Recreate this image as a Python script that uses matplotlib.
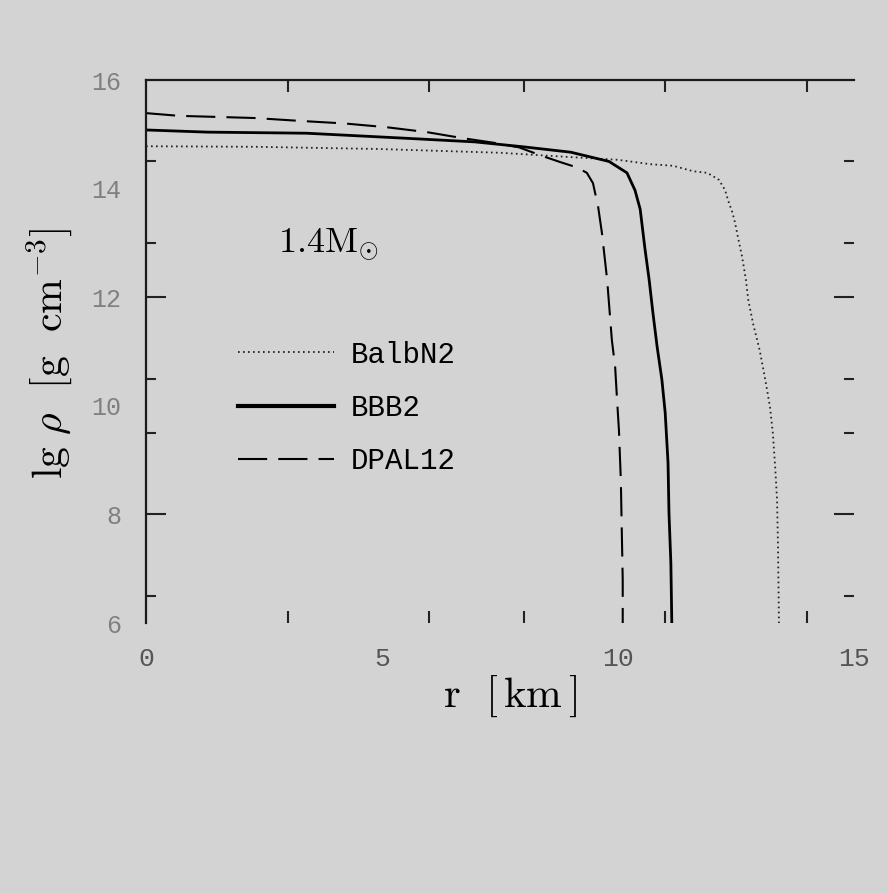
import matplotlib
matplotlib.use("Agg")
import matplotlib.pyplot as plt
from matplotlib.lines import Line2D

plt.rcParams['mathtext.fontset'] = 'cm'
plt.rcParams['lines.scale_dashes'] = False

# ---- data ----
r_balb = [0.0, 2.3, 4.9, 7.5, 9.0, 10.0, 10.68, 11.17, 11.59, 11.89, 12.01, 12.14,
          12.27, 12.33, 12.42, 12.48, 12.54, 12.63, 12.71, 12.76, 12.86, 13.0,
          13.11, 13.22, 13.28, 13.33, 13.37, 13.39, 13.41]
rho_balb = [14.78, 14.77, 14.73, 14.66, 14.58, 14.53, 14.45, 14.42, 14.32, 14.29, 14.23, 14.16,
            13.97, 13.79, 13.57, 13.37, 13.11, 12.74, 12.32, 11.95, 11.52, 11.03,
            10.53, 9.98, 9.5, 8.87, 8.27, 7.4, 6.0]

r_bbb = [0.0, 1.3, 3.4, 5.44, 6.97, 7.99, 9.0, 9.81, 10.19, 10.36, 10.47, 10.57,
         10.66, 10.74, 10.83, 10.93, 11.0, 11.06, 11.08, 11.12, 11.14]
rho_bbb = [15.08, 15.04, 15.02, 14.93, 14.86, 14.77, 14.67, 14.50, 14.29, 13.97, 13.62, 12.90,
           12.32, 11.71, 11.08, 10.48, 9.87, 8.95, 8.03, 7.1, 6.0]

r_dpal = [0.0, 0.7, 2.3, 3.2, 4.2, 5.1, 5.95, 6.7, 7.4, 7.9, 8.4, 8.77, 9.13, 9.34, 9.47,
          9.58, 9.66, 9.77, 9.87, 9.94, 9.98, 10.02, 10.06, 10.08, 10.1, 10.1]
rho_dpal = [15.39, 15.34, 15.30, 15.25, 15.20, 15.13, 15.04, 14.93, 14.84, 14.76, 14.6, 14.49, 14.39, 14.29, 14.10,
            13.66, 13.18, 12.32, 11.21, 10.71, 10.11, 9.55, 8.63, 7.71, 6.79, 6.0]

labels = ['BalbN2', 'BBB2', 'DPAL12']
xtick_labels = ['0', '5', '10', '15']
ytick_labels = ['6', '8', '10', '12', '14', '16']
xtick_vals = [0, 5, 10, 15]
ytick_vals = [6, 8, 10, 12, 14, 16]
x_marks = [3, 6, 8, 11, 14]
y_short_marks = [6.5, 9.5, 10.5, 13, 14.5]
y_long_marks = [8, 12]

BG = '#d3d3d3'
fig = plt.figure(figsize=(8.88, 8.93), dpi=100, facecolor=BG)
ax = fig.add_axes([146/888, 1-623/893, 708/888, 543/893], facecolor=BG)

ax.plot(r_balb, rho_balb, color='#222222', lw=1.3, linestyle=(0, (1.2, 2.4)))
ax.plot(r_bbb, rho_bbb, color='black', lw=2.0, linestyle='-')
ax.plot(r_dpal, rho_dpal, color='black', lw=1.5, linestyle=(0, (21, 8)))

ax.set_xlim(0, 15)
ax.set_ylim(6, 16)

for s in ['bottom', 'right']:
    ax.spines[s].set_visible(False)
for s in ['left', 'top']:
    ax.spines[s].set_linewidth(1.6)
    ax.spines[s].set_color('#1a1a1a')

# major ticks: labels only
ax.set_xticks(xtick_vals)
ax.set_xticklabels(xtick_labels)
ax.set_yticks(ytick_vals)
ax.set_yticklabels(ytick_labels)
ax.tick_params(axis='both', which='major', length=0)
ax.tick_params(axis='x', which='major', pad=17, labelsize=19, labelcolor='#555555')
ax.tick_params(axis='y', which='major', pad=18, labelsize=18, labelcolor='#808080')
for t in ax.get_xticklabels() + ax.get_yticklabels():
    t.set_family('Liberation Mono')

# minor ticks: visible marks
ax.set_xticks(x_marks, minor=True)
ax.set_yticks(y_short_marks, minor=True)
ax.tick_params(axis='x', which='minor', direction='in', length=8.5, width=1.5,
               top=True, bottom=True, color='#222222')
ax.tick_params(axis='y', which='minor', direction='in', length=7, width=1.5,
               left=True, right=True, color='#222222')

# long ticks on y at 8 and 12
for loc in ['left', 'right']:
    sec = ax.secondary_yaxis(loc)
    sec.set_yticks(y_long_marks)
    sec.tick_params(direction='in', length=14.5, width=1.5, color='#222222', labelleft=False, labelright=False)
    sec.spines[loc].set_visible(False)

ax.set_xlabel(r'$\mathrm{r}\ \ [\,\mathrm{km}\,]$', fontsize=31)
ax.xaxis.set_label_coords(0.514, -0.094)
ax.set_ylabel(r'$\mathrm{lg}\ \rho\ \ [\mathrm{g\ \ cm^{-3}}]$', fontsize=30)
ax.yaxis.set_label_coords(-0.102, 0.497)

ax.text(2.8, 12.83, r'$1.4\mathrm{M}_{\odot}$', fontsize=26, ha='left', va='baseline')

handles = [
    Line2D([], [], color='#222222', lw=1.3, linestyle=(0, (1.2, 2.4))),
    Line2D([], [], color='black', lw=3.0, linestyle='-'),
    Line2D([], [], color='black', lw=1.5, linestyle=(0, (21, 8))),
]
leg = ax.legend(handles, labels, loc='upper left', bbox_to_anchor=(0.13, 0.52),
                frameon=False, borderpad=0, borderaxespad=0, handlelength=3.3,
                handletextpad=0.55, labelspacing=0.87,
                prop={'family': 'Liberation Mono', 'size': 21})

fig.savefig('out.png', dpi=100, facecolor=BG)
